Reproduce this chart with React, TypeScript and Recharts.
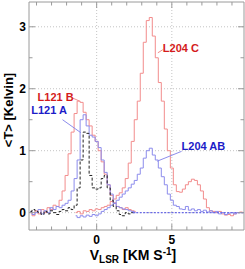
import React from 'react';
import { LineChart, Line, XAxis, YAxis, ReferenceLine, ReferenceArea, ReferenceDot } from 'recharts';

// ---- data ----
const velL121 = [-4.4, -4.2, -4.0, -3.8, -3.6, -3.4, -3.2, -3.0, -2.8, -2.6, -2.4, -2.2, -2.0, -1.8, -1.6, -1.4, -1.2, -1.0, -0.8, -0.6, -0.4, -0.2, 0.0, 0.2, 0.4, 0.6, 0.8, 1.0, 1.2, 1.4, 1.6, 1.8, 2.0, 2.2, 2.4, 2.6];
const tL121B = [0.0, -0.05, 0.03, -0.02, 0.05, 0.0, 0.08, 0.05, 0.12, 0.1, 0.2, 0.35, 0.6, 0.95, 1.3, 1.6, 1.8, 1.78, 1.62, 1.5, 1.4, 1.25, 1.15, 1.0, 0.82, 0.62, 0.45, 0.28, 0.16, 0.1, 0.08, 0.05, 0.08, 0.05, 0.03, 0.02];
const tL121A = [0.02, -0.03, 0.0, 0.05, -0.02, 0.03, 0.0, 0.08, 0.05, 0.1, 0.08, 0.12, 0.15, 0.2, 0.35, 0.55, 0.85, 1.5, 1.58, 1.4, 1.25, 1.22, 1.15, 1.05, 0.85, 0.65, 0.45, 0.3, 0.15, 0.1, 0.08, 0.06, 0.05, 0.03, 0.02, 0.0];
const tL121Other = [0.02, 0.05, 0.02, 0.0, -0.03, 0.02, -0.02, 0.03, 0.0, -0.03, 0.02, 0.05, 0.03, 0.08, 0.05, 0.12, 0.4, 0.85, 1.3, 1.28, 0.6, 0.4, 0.38, 0.4, 0.55, 0.6, 0.4, 0.2, 0.1, 0.03, -0.03, -0.05, 0.0, -0.02, 0.0, 0.0];

const velL204 = [-1.4, -1.2, -1.0, -0.8, -0.6, -0.4, -0.2, 0.0, 0.2, 0.4, 0.6, 0.8, 1.0, 1.2, 1.4, 1.6, 1.8, 2.0, 2.2, 2.4, 2.6, 2.8, 3.0, 3.2, 3.4, 3.6, 3.8, 4.0, 4.2, 4.4, 4.6, 4.8, 5.0, 5.2, 5.4, 5.6, 5.8, 6.0, 6.2, 6.4, 6.6, 6.8, 7.0, 7.2, 7.4, 7.6, 7.8, 8.0, 8.2, 8.4, 8.6, 8.8, 9.0, 9.2, 9.4, 9.6, 9.8];
const tL204C = [0.0, 0.02, -0.02, 0.03, 0.02, 0.05, 0.03, 0.06, 0.05, 0.08, 0.1, 0.12, 0.18, 0.22, 0.28, 0.32, 0.4, 0.55, 0.8, 1.15, 1.5, 1.8, 2.25, 2.75, 3.1, 3.15, 2.85, 2.5, 2.1, 1.8, 1.35, 1.0, 0.72, 0.45, 0.34, 0.33, 0.38, 0.45, 0.5, 0.54, 0.52, 0.45, 0.35, 0.22, 0.08, 0.03, 0.02, 0.0, 0.02, -0.02, -0.04, -0.03, -0.05, -0.02, 0.0, 0.01, 0.0];
const tL204AB = [-0.05, -0.08, -0.05, -0.07, -0.04, -0.06, -0.03, -0.05, -0.02, 0.02, 0.05, 0.08, 0.12, 0.15, 0.2, 0.25, 0.3, 0.35, 0.4, 0.46, 0.52, 0.62, 0.72, 0.88, 1.0, 1.04, 0.93, 0.85, 0.72, 0.58, 0.45, 0.3, 0.2, 0.12, 0.1, 0.06, 0.05, 0.1, 0.04, 0.06, 0.03, 0.05, 0.02, 0.04, 0.01, 0.03, 0.0, 0.02, -0.02, 0.0, -0.03, -0.01, 0.0, -0.02, 0.0, 0.0, 0.0];

const zeroVel = [2.4, 9.8];
const zeroT = [0, 0];

const xTicks = [-4, -3, -2, -1, 0, 1, 2, 3, 4, 5, 6, 7, 8, 9];
const xMajor = [0, 5];
const yTicks = [0, 0.5, 1, 1.5, 2, 2.5, 3];
const yMajor = [0, 1, 2, 3];
const xDomain = [-4.5, 9.8];
const yDomain = [-0.28, 3.4];

const mk = (v: number[], t: number[]) => v.map((x, i) => ({ v: x, t: t[i] }));
const dL121B = mk(velL121, tL121B);
const dL121A = mk(velL121, tL121A);
const dL121O = mk(velL121, tL121Other);
const dL204C = mk(velL204, tL204C);
const dL204AB = mk(velL204, tL204AB);
const dZero = mk(zeroVel, zeroT);

// ---- style ----
const W = 245;
const H = 269;
const PLOT = { left: 29, right: 244, top: 2, bottom: 230 };
const FRAME = '#9a9a9a';
const GRID = '#c4c4c4';
const RED = '#f28c8c';
const BLUE = '#8c8cec';
const RED_TXT = '#d41c1c';
const BLUE_TXT = '#1c1cc8';
const FONT = '"Liberation Sans", Arial, Helvetica, sans-serif';

function XTick(props: any) {
  const { x, y, payload } = props;
  const v = payload.value;
  const major = xMajor.includes(v);
  const len = major ? 6 : 3.5;
  return (
    <g>
      <line x1={x} x2={x} y1={y} y2={y - len} stroke={FRAME} strokeWidth={1} />
      <line x1={x} x2={x} y1={PLOT.top} y2={PLOT.top + len} stroke={FRAME} strokeWidth={1} />
      {major && (
        <text x={x} y={y + 14} textAnchor="middle" fontSize={12} fontWeight="bold" fontFamily={FONT} fill="#000">
          {v}
        </text>
      )}
    </g>
  );
}

function YTick(props: any) {
  const { x, y, payload } = props;
  const v = payload.value;
  const major = yMajor.includes(v);
  const len = major ? 6 : 3.5;
  return (
    <g>
      <line x1={x} x2={x + len} y1={y} y2={y} stroke={FRAME} strokeWidth={1} />
      <line x1={PLOT.right - len} x2={PLOT.right} y1={y} y2={y} stroke={FRAME} strokeWidth={1} />
      {major && (
        <text x={x - 3} y={y + 4.5} textAnchor="end" fontSize={12} fontWeight="bold" fontFamily={FONT} fill="#000">
          {v}
        </text>
      )}
    </g>
  );
}

function XTitle() {
  return (
    <text x={133} y={260} textAnchor="middle" fontFamily={FONT} fontWeight="bold" fontSize={14} fill="#000">
      <tspan>V</tspan>
      <tspan fontSize={10} dy={3}>LSR</tspan>
      <tspan dy={-3}> [KM S</tspan>
      <tspan fontSize={10} dy={-5}>-1</tspan>
      <tspan dy={5}>]</tspan>
    </text>
  );
}

function YTitle() {
  return (
    <text
      x={13}
      y={110}
      transform="rotate(-90 13 110)"
      textAnchor="middle"
      fontFamily={FONT}
      fontWeight="bold"
      fontSize={13}
      fill="#000"
    >
      {'<T> [Kelvin]'}
    </text>
  );
}

const lbl = (value: string, fill: string) => ({
  value,
  position: 'right' as const,
  offset: 0,
  fill,
  fontSize: 11,
  fontWeight: 'bold',
  fontFamily: FONT,
});

export default function App() {
  return (
    <div style={{ position: 'absolute', left: 0, top: 0, width: W, height: H, background: '#fff' }}>
      <LineChart width={W} height={H} margin={{ top: PLOT.top, right: W - PLOT.right, bottom: 0, left: 0 }}>
        <XAxis
          type="number"
          dataKey="v"
          domain={xDomain}
          ticks={xTicks}
          allowDataOverflow
          interval={0}
          height={H - PLOT.bottom}
          axisLine={false}
          tickLine={false}
          tickSize={0}
          tickMargin={0}
          tick={<XTick />}
          label={<XTitle />}
        />
        <YAxis
          type="number"
          dataKey="t"
          domain={yDomain}
          ticks={yTicks}
          allowDataOverflow
          interval={0}
          width={PLOT.left}
          axisLine={false}
          tickLine={false}
          tickSize={0}
          tickMargin={0}
          tick={<YTick />}
          label={<YTitle />}
        />
        <ReferenceLine x={0} stroke={GRID} strokeDasharray="1 2" />
        <ReferenceLine x={5} stroke={GRID} strokeDasharray="1 2" />
        <ReferenceLine y={0} stroke={GRID} strokeDasharray="1 2" />
        <ReferenceLine y={1} stroke={GRID} strokeDasharray="1 2" />
        <ReferenceLine y={2} stroke={GRID} strokeDasharray="1 2" />
        <ReferenceLine y={3} stroke={GRID} strokeDasharray="1 2" />
        <ReferenceArea x1={xDomain[0]} x2={xDomain[1]} y1={yDomain[0]} y2={yDomain[1]} fill="none" stroke={FRAME} strokeWidth={1} fillOpacity={0} />

        <Line data={dL121B} dataKey="t" type="step" stroke={RED} strokeWidth={1} dot={false} isAnimationActive={false} />
        <Line data={dL204C} dataKey="t" type="step" stroke={RED} strokeWidth={1} dot={false} isAnimationActive={false} />
        <Line data={dL121A} dataKey="t" type="step" stroke={BLUE} strokeWidth={1} dot={false} isAnimationActive={false} />
        <Line data={dL204AB} dataKey="t" type="step" stroke={BLUE} strokeWidth={1} dot={false} isAnimationActive={false} />
        <Line data={dL121O} dataKey="t" type="step" stroke="#222" strokeWidth={1} strokeDasharray="3 2" dot={false} isAnimationActive={false} />
        <Line data={dZero} dataKey="t" type="linear" stroke="#6a6ae6" strokeWidth={1.2} strokeDasharray="2 1.5" dot={false} isAnimationActive={false} />

        <ReferenceLine segment={[{ x: -1.6, y: 1.85 }, { x: -1.13, y: 1.8 }]} stroke={RED} />
        <ReferenceLine segment={[{ x: -2.27, y: 1.5 }, { x: -1.05, y: 1.29 }]} stroke={BLUE} />
        <ReferenceLine segment={[{ x: 4.07, y: 2.58 }, { x: 4.4, y: 2.63 }]} stroke={RED} />
        <ReferenceLine segment={[{ x: 4.02, y: 0.83 }, { x: 5.65, y: 0.99 }]} stroke={BLUE} />

        <ReferenceDot x={-3.93} y={1.87} r={0} fill="none" stroke="none" label={lbl('L121 B', RED_TXT)} />
        <ReferenceDot x={-4.35} y={1.65} r={0} fill="none" stroke="none" label={lbl('L121 A', BLUE_TXT)} />
        <ReferenceDot x={4.4} y={2.65} r={0} fill="none" stroke="none" label={lbl('L204 C', RED_TXT)} />
        <ReferenceDot x={5.65} y={1.07} r={0} fill="none" stroke="none" label={lbl('L204 AB', BLUE_TXT)} />
      </LineChart>
    </div>
  );
}
